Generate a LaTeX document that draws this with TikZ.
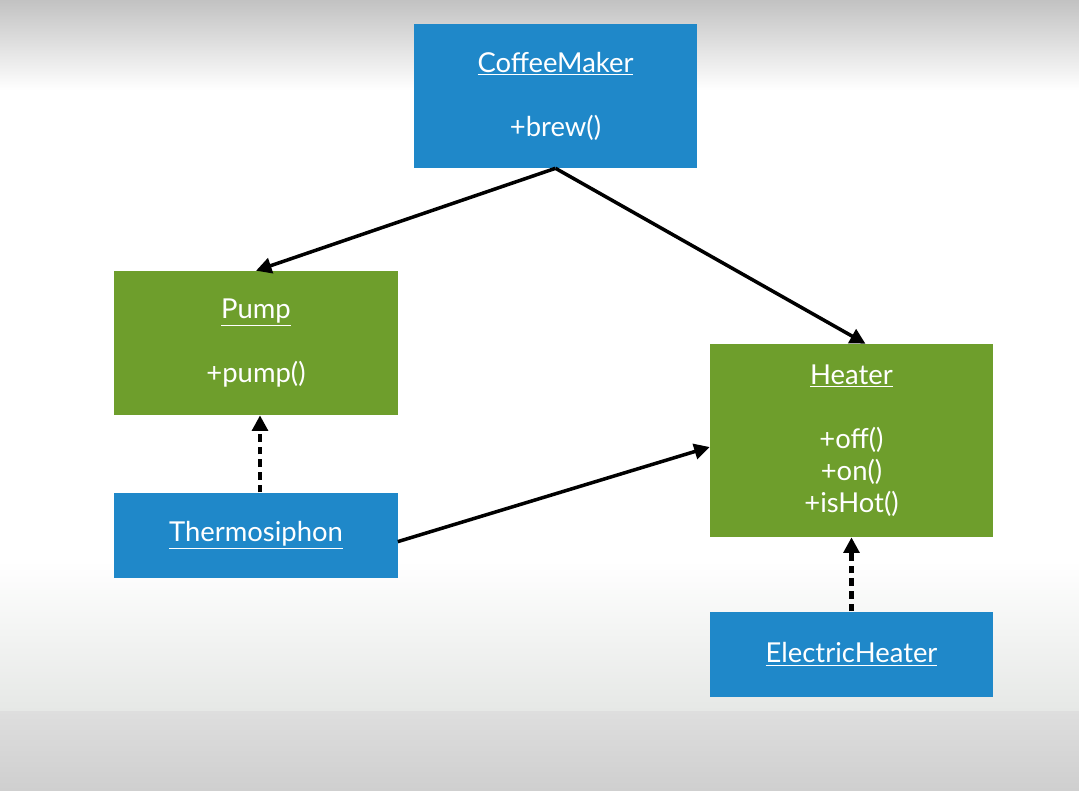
\documentclass[tikz,border=0pt]{standalone}
\usepackage{fontspec}
\setmainfont{Lato}
\usetikzlibrary{positioning}
\usetikzlibrary{calc}
\usetikzlibrary{arrows.meta}
\definecolor{classblue}{HTML}{1F88C9}
\definecolor{classgreen}{HTML}{6E9E2C}
\definecolor{slidetop}{HTML}{C2C2C2}
\definecolor{slidefoot}{HTML}{E6E8E6}
\definecolor{barlight}{HTML}{DEDEDE}
\definecolor{bardark}{HTML}{CFCFCF}
\tikzset{
	classbox/.style={fill=#1, text=white, inner sep=0pt, minimum width=7.075cm, align=center, font=\fontsize{19.5}{22.8}\selectfont},
	uses/.style={-{Triangle[length=11pt,width=11pt]}, line width=2.5pt},
	realizes/.style={uses, line width=3pt, dash pattern=on 5.5pt off 3.5pt}
}

\begin{document}
\begin{tikzpicture}[x=0.025cm, y=-0.025cm]
		% slide background
		\fill [top color=slidetop, bottom color=white] (0,0) rectangle (1079,90);
		\fill [white] (0,90) rectangle (1079,560);
		\fill [top color=white, bottom color=slidefoot] (0,560) rectangle (1079,711);
		\fill [top color=barlight, bottom color=bardark] (0,711) rectangle (1079,790);
		\useasboundingbox (0,0) rectangle (1079,790);

		\node [classbox=classblue, minimum height=3.6cm] at (555.5,96) (coffeemaker) {\underline{CoffeeMaker}\\[\baselineskip]+brew()};
		\node [classbox=classgreen, minimum height=3.6cm] at (256,343) (pump) {\underline{Pump}\\[\baselineskip]+pump()};
		\node [classbox=classblue, minimum height=2.125cm, below=1.925cm of pump] (thermosiphon) {\underline{Thermosiphon}};
		\node [classbox=classgreen, minimum height=4.825cm] at (851.5,440.5) (heater) {\underline{Heater}\\[\baselineskip]+off()\\+on()\\+isHot()};
		\node [classbox=classblue, minimum height=2.125cm, below=1.85cm of heater] (electricheater) {\underline{ElectricHeater}};

		\draw [uses] (coffeemaker.south) -- (pump.north);
		\draw [uses] (coffeemaker.south) -- ($(heater.north)+(14,0)$);
		\draw [uses] ($(thermosiphon.east)+(0,6.5)$) -- ($(heater.west)+(0,6.5)$);
		\draw [realizes] ($(thermosiphon.north)+(4,0)$) -- ($(pump.south)+(4,0)$);
		\draw [realizes] (electricheater.north) -- (heater.south);
\end{tikzpicture}
\end{document}
